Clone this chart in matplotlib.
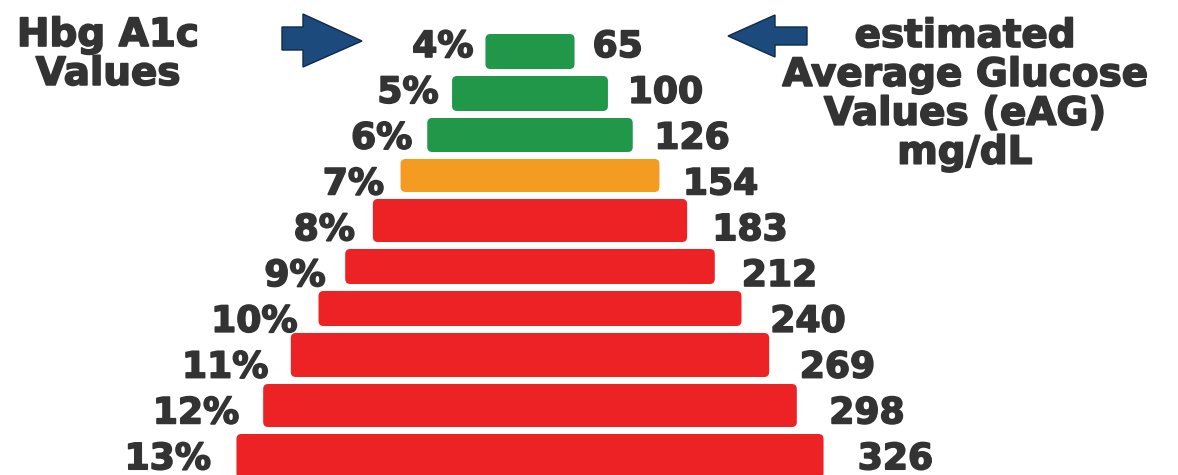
import matplotlib
matplotlib.use("Agg")
import matplotlib.pyplot as plt
import matplotlib.patheffects as pe
from matplotlib.patches import FancyBboxPatch, Polygon
import numpy as np

# data
a1c_labels = ["4%", "5%", "6%", "7%", "8%", "9%", "10%", "11%", "12%", "13%"]
a1c = [4, 5, 6, 7, 8, 9, 10, 11, 12, 13]
eag = [65, 100, 126, 154, 183, 212, 240, 269, 298, 326]

# layout (the axes is in pixel units, y down)
W, H = 1178, 475
center_x = 530
px_per_unit = 1.908   # bar width per mg/dL
base_unit = 18.3      # width zero point in mg/dL
bar_thick = [35, 35, 34, 33, 43, 35, 35, 44, 43, 44]
bar_gap = 7
first_top = 34
text_y0, text_step = 47, 45.8

green, orange, red = "#21974a", "#f49b22", "#ed2224"
txt = "#333333"
arrow_col = "#1d4a7c"
heavy = [pe.withStroke(linewidth=1.2, foreground=txt)]


def a1c_color(v):
    if v <= 6:
        return green
    if v == 7:
        return orange
    return red


fig = plt.figure(figsize=(W / 100, H / 100), dpi=100)
ax = fig.add_axes([0, 0, 1, 1])
ax.set_xlim(0, W)
ax.set_ylim(H, 0)
ax.axis("off")

widths = (np.array(eag) - base_unit) * px_per_unit
tops = first_top + np.concatenate([[0], np.cumsum(np.array(bar_thick[:-1]) + bar_gap)])
centers = tops + np.array(bar_thick) / 2

bars = ax.barh(centers, widths, height=bar_thick, left=center_x - widths / 2,
               color=[a1c_color(v) for v in a1c])

# swap the plain bars for slightly rounded ones
for b in bars:
    x, y, w, h = b.get_x(), b.get_y(), b.get_width(), b.get_height()
    rb = FancyBboxPatch((x, y), w, h, boxstyle="round,pad=0,rounding_size=5",
                        facecolor=b.get_facecolor(), edgecolor="none")
    ax.add_patch(rb)
    b.set_visible(False)

for i, (lab, val) in enumerate(zip(a1c_labels, eag)):
    ty = text_y0 + text_step * i
    left = center_x - widths[i] / 2
    right = center_x + widths[i] / 2
    ax.text(left - (12 + 1.5 * i), ty, lab, ha="right", va="center",
            fontsize=26, fontweight="bold", color=txt, path_effects=heavy)
    ax.text(right + (18 + 1.8 * i), ty, str(val), ha="left", va="center",
            fontsize=26, fontweight="bold", color=txt, path_effects=heavy)

# titles
ax.text(108, 16, "Hbg A1c\nValues", ha="center", va="top", multialignment="center",
        fontsize=28, fontweight="bold", color=txt, linespacing=1.03,
        path_effects=heavy)
ax.text(965, 17, "estimated\nAverage Glucose\nValues (eAG)\nmg/dL", ha="center",
        va="top", multialignment="center", fontsize=28, fontweight="bold",
        color=txt, linespacing=1.03, path_effects=heavy)

# block arrows
ax.add_patch(Polygon([(282, 27), (303, 27), (303, 14), (362, 41), (303, 67),
                      (303, 50), (282, 50)], closed=True, facecolor=arrow_col,
                     edgecolor="#0f2a48", linewidth=1))
ax.add_patch(Polygon([(807, 27), (775, 27), (775, 15), (728, 36), (775, 57),
                      (775, 45), (807, 45)], closed=True, facecolor=arrow_col,
                     edgecolor="#0f2a48", linewidth=1))

fig.savefig("out.png", dpi=100)
